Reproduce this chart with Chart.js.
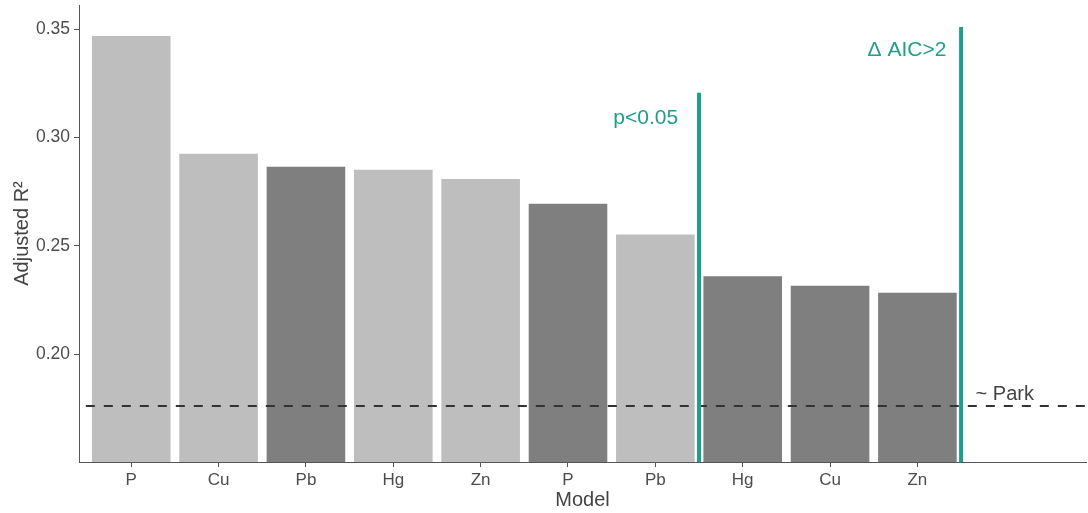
<!DOCTYPE html>
<html>
<head>
<meta charset="utf-8">
<script src="https://cdn.jsdelivr.net/npm/chart.js@4"></script>
<style>
  html, body { margin: 0; padding: 0; background: #fff; }
  #contenedor { width: 1088px; height: 513px; }
</style>
</head>
<body>
<div id="contenedor"><canvas id="grafico"></canvas></div>
<script>
// Datos

const etiquetas = ["P", "Cu", "Pb", "Hg", "Zn", "P", "Pb", "Hg", "Cu", "Zn"];
const r2Ajustado = [0.3469, 0.2925, 0.2865, 0.2851, 0.2809, 0.2694, 0.2552, 0.2360, 0.2316, 0.2283];
const tipo = ["claro", "claro", "oscuro", "claro", "claro", "oscuro", "claro", "oscuro", "oscuro", "oscuro"];
const ticksY = [0.20, 0.25, 0.30, 0.35];
const r2Park = 0.176;
const cortes = [
  { x: 7.5, techo: 0.3207 },  // p<0.05
  { x: 10.5, techo: 0.3511 }, // delta AIC > 2
];

const colores = { claro: "#bebebe", oscuro: "#7f7f7f" };
const verde = "#1f9e89";
const fuente = "'Liberation Sans', Arial, sans-serif";
const xMin = 0.402, xMax = 11.93;
const yMin = 0.1502, yMax = 0.3612;

// Textos sobre el grafico
const textos = [
  { texto: "p<0.05", x: 6.89, y: 0.3091, color: verde, size: 21 },
  { texto: "\u0394 AIC>2", x: 9.88, y: 0.3404, color: verde, size: 21 },
  { texto: "~ Park", x: 11.0, y: 0.1812, color: "#444", size: 20 },
];

const pluginTextos = {
  id: "textos",
  afterDatasetsDraw(chart) {
    const { ctx, scales } = chart;
    ctx.save();
    textos.forEach((t) => {
      ctx.font = t.size + "px " + fuente;
      ctx.fillStyle = t.color;
      ctx.textAlign = "center";
      ctx.textBaseline = "middle";
      ctx.fillText(t.texto, scales.x.getPixelForValue(t.x), scales.y.getPixelForValue(t.y));
    });
    ctx.restore();
  },
};

const datasets = [
  {
    type: "bar",
    order: 5,
    data: etiquetas.map((_, i) => ({ x: i + 1, y: r2Ajustado[i] })),
    backgroundColor: tipo.map((t) => colores[t]),
    categoryPercentage: 1,
    barPercentage: 0.9,
  },
  {
    type: "line",
    order: 1,
    data: [{ x: 0.48, y: r2Park }, { x: xMax, y: r2Park }],
    borderColor: "#333",
    borderWidth: 2,
    borderDash: [9, 9],
    pointRadius: 0,
  },
];

cortes.forEach((c) => {
  datasets.push({
    type: "line",
    order: 0,
    data: [{ x: c.x, y: yMin }, { x: c.x, y: c.techo }],
    borderColor: verde,
    borderWidth: 4,
    pointRadius: 0,
  });
});

const ctx = document.getElementById("grafico");

const chart = new Chart(ctx, {
  type: "bar",
  data: { datasets },
  plugins: [pluginTextos],
  options: {
    responsive: true,
    maintainAspectRatio: false,
    animation: false,
    layout: { padding: { top: 5, right: 2, left: 0, bottom: 0 } },
    plugins: { legend: { display: false }, tooltip: { enabled: false } },
    scales: {
      x: {
        type: "linear",
        offset: false,
        min: xMin,
        max: xMax,
        afterBuildTicks: (s) => { s.ticks = etiquetas.map((_, i) => ({ value: i + 1 })); },
        afterFit: (s) => { s.height = 51; s.paddingLeft = 0; s.paddingRight = 0; },
        ticks: {
          callback: (v, i) => etiquetas[i],
          autoSkip: false,
          maxRotation: 0,
          padding: 3,
          color: "#4d4d4d",
          font: { family: fuente, size: 17 },
        },
        grid: { drawOnChartArea: false, offset: false, tickLength: 5, color: "#555" },
        border: { color: "#555" },
        title: {
          display: true,
          text: "Model",
          color: "#444",
          font: { family: fuente, size: 20 },
          padding: { top: 0, bottom: 1 },
        },
      },
      y: {
        min: yMin,
        max: yMax,
        afterBuildTicks: (s) => { s.ticks = ticksY.map((v) => ({ value: v })); },
        afterFit: (s) => { s.width = 79; s.paddingTop = 0; s.paddingBottom = 0; },
        ticks: {
          callback: (v) => v.toFixed(2),
          padding: 4,
          color: "#4d4d4d",
          font: { family: fuente, size: 17.5 },
        },
        grid: { drawOnChartArea: false, tickLength: 5, color: "#555" },
        border: { color: "#555" },
        title: {
          display: true,
          text: "Adjusted R\u00b2",
          color: "#444",
          font: { family: fuente, size: 20 },
          padding: { top: 10, bottom: 0 },
        },
      },
    },
  },
});
</script>
</body>
</html>
